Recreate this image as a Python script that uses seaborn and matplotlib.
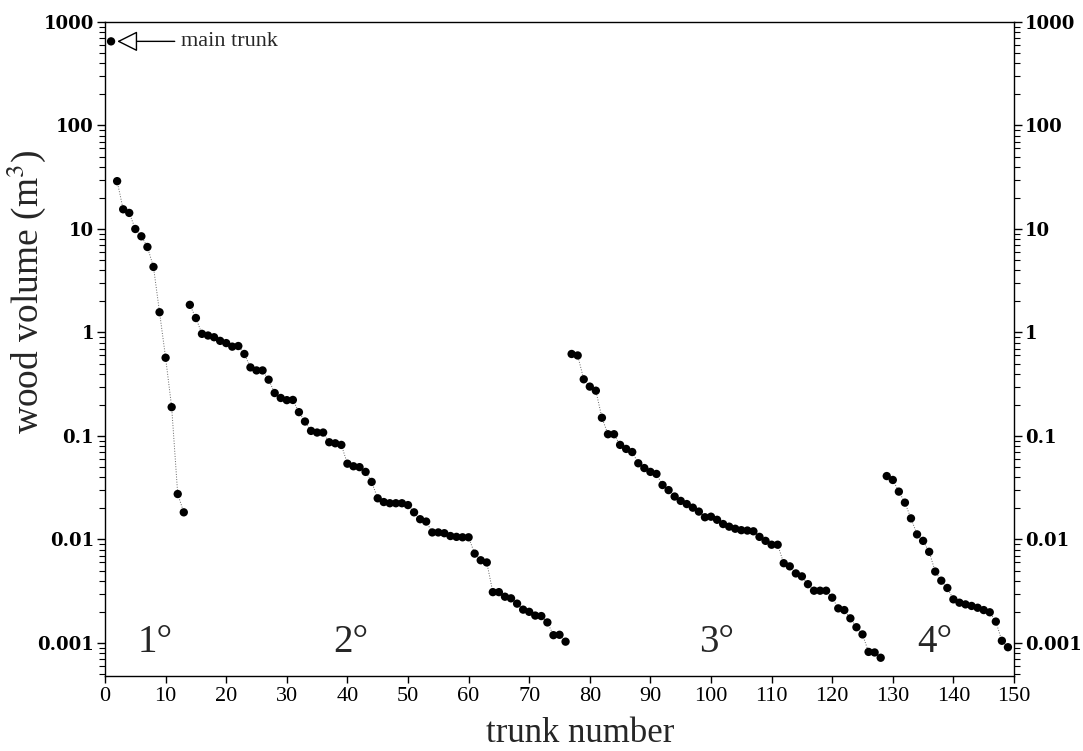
import matplotlib
matplotlib.use("Agg")
import matplotlib.pyplot as plt
import seaborn as sns
import pandas as pd
import numpy as np
from matplotlib.ticker import LogLocator, FixedLocator, FixedFormatter, NullFormatter

# ---- data (wood volume, m^3) ----
main_trunk = [650.0]
deg1 = [29, 15.5, 14.3, 10, 8.5, 6.7, 4.3, 1.57, 0.57, 0.19, 0.0275, 0.0183]
deg2 = [1.85, 1.38, 0.97, 0.935, 0.90, 0.83, 0.79, 0.73, 0.74, 0.62,
        0.46, 0.43, 0.43, 0.35, 0.26, 0.233, 0.222, 0.223, 0.17, 0.138,
        0.112, 0.108, 0.108, 0.087, 0.085, 0.082, 0.054, 0.051, 0.050, 0.045,
        0.036, 0.025, 0.023, 0.0224, 0.0224, 0.0224, 0.0215, 0.0183, 0.0157, 0.0149,
        0.0117, 0.0117, 0.0115, 0.0108, 0.0106, 0.0105, 0.0105, 0.0073, 0.0063, 0.0060,
        0.0031, 0.0031, 0.0028, 0.0027, 0.0024, 0.0021, 0.0020, 0.00184, 0.00182, 0.00158,
        0.00119, 0.0012, 0.00103]
deg3 = [0.62, 0.60, 0.353, 0.30, 0.274, 0.150, 0.104, 0.104, 0.082, 0.075,
        0.070, 0.0545, 0.049, 0.045, 0.043, 0.0336, 0.030, 0.026, 0.0236, 0.022,
        0.0203, 0.0186, 0.0164, 0.0166, 0.0155, 0.0141, 0.0133, 0.0127, 0.0123, 0.0122,
        0.012, 0.0106, 0.0097, 0.0089, 0.0089, 0.0059, 0.0055, 0.0047, 0.0044, 0.0037,
        0.0032, 0.0032, 0.0032, 0.00274, 0.00216, 0.00208, 0.00173, 0.00142, 0.00121, 0.00082,
        0.00081, 0.00072]
deg4 = [0.041, 0.0376, 0.029, 0.0227, 0.016, 0.0112, 0.0097, 0.0076, 0.0049, 0.0040,
        0.0034, 0.00264, 0.00245, 0.00236, 0.00228, 0.00219, 0.00208, 0.00198, 0.00161, 0.00105,
        0.00091]
group_names = ["main", "1°", "2°", "3°", "4°"]
group_label_x = [None, 8.3, 40.5, 101, 137]
x_ticks = list(range(0, 151, 10))
y_ticks = [0.001, 0.01, 0.1, 1, 10, 100, 1000]
y_tick_labels = ["0.001", "0.01", "0.1", "1", "10", "100", "1000"]

series = [main_trunk, deg1, deg2, deg3, deg4]
rows = []
n = 1
for g, vals in zip(group_names, series):
    for v in vals:
        rows.append({"trunk": n, "volume": v, "group": g})
        n += 1
df = pd.DataFrame(rows)

sns.set_theme(style="ticks")
plt.rcParams["font.family"] = ["Liberation Serif", "DejaVu Serif"]
plt.rcParams["mathtext.fontset"] = "stix"

fig = plt.figure(figsize=(10.83, 7.51), dpi=100)
ax = fig.add_axes([105/1083, 1-676/751, (1014-105)/1083, (676-22)/751])

sns.lineplot(data=df, x="trunk", y="volume", units="group", estimator=None,
             color="0.4", lw=0.7, ls=":", ax=ax, legend=False)
sns.scatterplot(data=df, x="trunk", y="volume", color="black", s=36,
                edgecolor="none", ax=ax, legend=False, zorder=3)

ax.set_yscale("log")
ax.set_xlim(0, 150)
ax.set_ylim(10**(-3.319), 1000)

ax.xaxis.set_major_locator(FixedLocator(x_ticks))
ax.yaxis.set_major_locator(FixedLocator(y_ticks))
ax.yaxis.set_major_formatter(FixedFormatter(y_tick_labels))
ax.yaxis.set_minor_locator(LogLocator(base=10, subs=np.arange(2, 10)))
ax.yaxis.set_minor_formatter(NullFormatter())

for s in ax.spines.values():
    s.set_color("black")
    s.set_linewidth(1.0)

ax.tick_params(axis="y", which="both", left=True, right=True, labelleft=True,
               labelright=True, direction="out", colors="black", pad=2)
ax.tick_params(axis="y", which="major", length=6, width=1)
ax.tick_params(axis="y", which="minor", length=4, width=0.8)
ax.tick_params(axis="x", which="major", direction="out", length=5, width=1,
               labelsize=16, colors="black", pad=3)
for lab in ax.get_yticklabels(which="major"):
    lab.set_fontfamily(["DejaVu Serif"])
    lab.set_fontsize(13)
    lab.set_fontweight("semibold")

ax.set_xlabel("trunk number", fontsize=25)
ax.xaxis.set_label_coords((580 - 105) / 909, -0.062)
ax.set_ylabel("wood volume (m$^3$)", fontsize=27)
ax.yaxis.set_label_coords(-0.063, (676 - 292) / 654)

for name, gx in zip(group_names, group_label_x):
    if gx is not None:
        ax.text(gx, 0.001, name, fontsize=28, ha="center", va="center")

ax.annotate("main trunk", xy=(2.0, 650), xytext=(12.5, 650), fontsize=16,
            va="center", ha="left",
            arrowprops=dict(arrowstyle="-|>,head_length=0.8,head_width=0.4",
                            fc="white", ec="black", lw=1.0,
                            shrinkA=2, shrinkB=0))

fig.savefig("out.png", dpi=100, facecolor="white")
